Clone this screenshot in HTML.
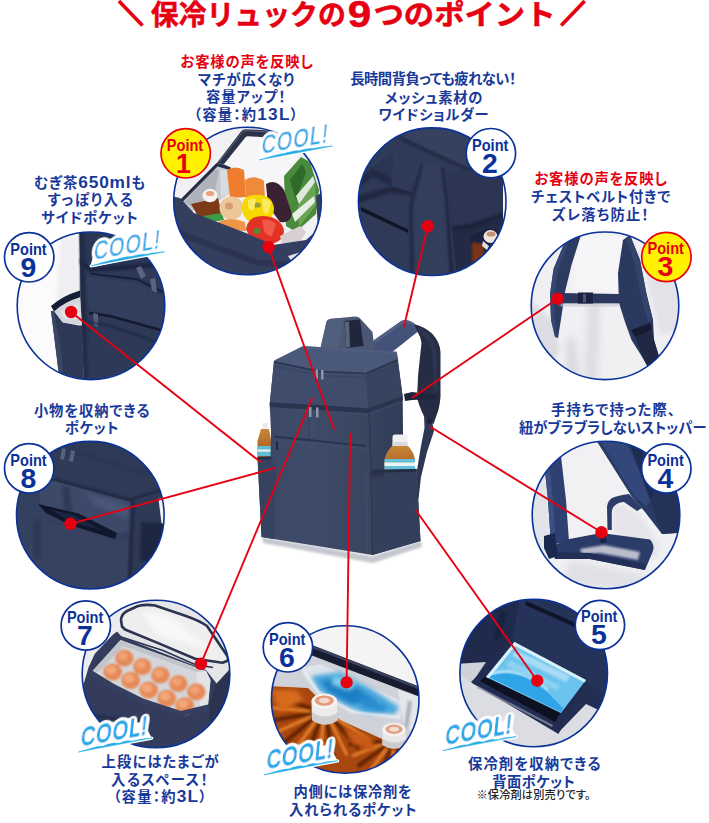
<!DOCTYPE html>
<html lang="ja"><head><meta charset="utf-8"><title>保冷リュックの9つのポイント</title>
<style>
html,body{margin:0;padding:0;background:#fff}
svg{display:block}
text{font-family:"Liberation Sans","Noto Sans CJK JP",sans-serif}
.t{font-weight:700;font-size:14.3px;fill:#19399a;text-anchor:middle;font-feature-settings:"palt"}
.L{font-size:17.3px}
.r{fill:#e60012}
.ttl{font-weight:700;font-size:28.5px;fill:#e60012;text-anchor:middle;stroke:#e60012;stroke-width:0.5px}
.pt{font-weight:700;font-size:16.6px;text-anchor:middle}
.pn{font-weight:700;font-size:26.8px;text-anchor:middle}
.cool{font-size:24px;letter-spacing:1.7px;fill:#1fa9e8;stroke:#1fa9e8;stroke-width:1.3px;stroke-linejoin:round}
</style></head><body>
<svg width="709" height="823" viewBox="0 0 709 823">
<rect width="709" height="823" fill="#fff"/>
<defs>
<clipPath id="cp1"><circle cx="247.5" cy="201.0" r="73.8"/></clipPath>
<clipPath id="cp2"><circle cx="432.2" cy="201.7" r="73.8"/></clipPath>
<clipPath id="cp3"><circle cx="605.0" cy="305.8" r="73.8"/></clipPath>
<clipPath id="cp4"><circle cx="606.0" cy="515.0" r="73.8"/></clipPath>
<clipPath id="cp5"><circle cx="533.7" cy="673.0" r="73.8"/></clipPath>
<clipPath id="cp6"><circle cx="345.2" cy="699.5" r="73.8"/></clipPath>
<clipPath id="cp7"><circle cx="156.0" cy="674.0" r="73.8"/></clipPath>
<clipPath id="cp8"><circle cx="90.3" cy="515.2" r="73.8"/></clipPath>
<clipPath id="cp9"><circle cx="91.0" cy="305.8" r="73.8"/></clipPath>
<linearGradient id="gFront" x1="0" y1="0" x2="1" y2="0"><stop offset="0" stop-color="#3a4865"/><stop offset="0.45" stop-color="#3e4b6a"/><stop offset="1" stop-color="#39455f"/></linearGradient>
<linearGradient id="gSide" x1="0" y1="0" x2="1" y2="0"><stop offset="0" stop-color="#37425f"/><stop offset="1" stop-color="#2f3955"/></linearGradient>
<linearGradient id="gTea" x1="0" y1="0" x2="0" y2="1"><stop offset="0" stop-color="#c8873a"/><stop offset="1" stop-color="#a5561a"/></linearGradient>
<filter id="b1" x="-20%" y="-20%" width="140%" height="140%"><feGaussianBlur stdDeviation="1"/></filter>
<filter id="b2" x="-20%" y="-20%" width="140%" height="140%"><feGaussianBlur stdDeviation="2"/></filter>
<filter id="b3" x="-30%" y="-30%" width="160%" height="160%"><feGaussianBlur stdDeviation="3.5"/></filter>
<clipPath id="cp6b"><path d="M268 686 L308 688 L340 720 L380 738 L424 756 L424 779 L268 779 Z"/></clipPath>
<filter id="halo" x="-15%" y="-40%" width="130%" height="180%"><feGaussianBlur in="SourceAlpha" stdDeviation="3.2 2.7" result="db"/><feComponentTransfer in="db" result="dt"><feFuncA type="linear" slope="20" intercept="-1.1"/></feComponentTransfer><feFlood flood-color="#fff"/><feComposite in2="dt" operator="in" result="w"/><feMerge><feMergeNode in="w"/><feMergeNode in="SourceGraphic"/></feMerge></filter>
<filter id="b0" x="-20%" y="-20%" width="140%" height="140%"><feGaussianBlur stdDeviation="0.6"/></filter>
</defs>
<g id="title">
<text class="ttl" transform="translate(118.8,23.0) scale(0.96,1)" style="font-size:25px;text-anchor:start;stroke-width:2.5px">＼</text>
<text class="ttl" x="248.3" y="25.2" textLength="195" lengthAdjust="spacingAndGlyphs">保冷リュックの</text>
<text class="ttl" x="359.6" y="26.6" style="font-size:36.5px" textLength="23.5" lengthAdjust="spacingAndGlyphs">9</text>
<text class="ttl" x="464.5" y="25.2" textLength="182" lengthAdjust="spacingAndGlyphs">つのポイント</text>
<text class="ttl" transform="translate(560.9,23.0) scale(0.96,1)" style="font-size:25px;text-anchor:start;stroke-width:2.5px">／</text>
</g>
<g id="backpack">
<!-- ground shadow -->
<path d="M262 537 L372 556 L421 541 L422 547 L373 563 L263 543 Z" fill="#c4c7cf" filter="url(#b1)"/>
<!-- strap: light front portion -->
<path d="M366 345.8 L401.5 320.8 Q408 318.3 414.5 323.5 L418 331.5 L391 353 L372 354 Z" fill="#44527a"/>
<path d="M373.5 340.5 L401.5 320.8 Q408 318.3 414.5 323.5 L415.5 326 Q408 321.5 402 324 L375.5 343 Z" fill="#5a6789" opacity="0.8"/>
<!-- strap: dark padded portion -->
<path d="M414 324 Q425 327 432 333.5 Q440 342 440.5 352 L440.5 397 Q439.5 408 437 414 L433.5 424 L427 421.5 Q421 412 417 398 L418.2 374 L421.5 343 Q420.5 336 417 331 Z" fill="#252c44"/>
<path d="M419 327 Q429 332 436 345 L438 390 L434 394 L432 350 Q427 338 419 332 Z" fill="#333b56" opacity="0.6"/>
<!-- chest strap clip -->
<path d="M404 394 L412 392 L437 395 L437 399 L412 400 L405 401 Z" fill="#1d243b"/>
<!-- lower webbing -->
<path d="M424 415 L432 421 L434 431 L427 452 L421 477 L418.5 499 L415 497 L417 470 L421 446 L424.5 428 Z" fill="#2d3754"/>
<circle cx="429.5" cy="421" r="2.6" fill="#1b2238"/>
<!-- handle -->
<path d="M320 350 L326.5 321.5 Q328 318.5 334 318.5 L355 316.5 Q359 316.5 361 319.5 L372.5 332 L374.5 349 L358 353 L335 353 Z" fill="#4b5775"/>
<path d="M326.5 321.5 Q328 318.5 334 318.5 L344 318 L338 350 L320 350 Z" fill="#56627f" opacity="0.7"/>
<path d="M344.5 321 L360 319.5 L363.5 346 L346 348 Z" fill="#20263b"/>
<path d="M345 322 L349 321.7 L350 347 L346 347.5 Z" fill="#59637c"/>
<!-- left bottle -->
<g>
<rect x="262.5" y="423" width="5.5" height="5.5" fill="#ececed"/>
<path d="M261 429 L269 429 L271 440 L271.5 458 L257.5 458 L257.5 441 Z" fill="url(#gTea)"/>
<rect x="257.5" y="446" width="14" height="10" fill="#63bcd6"/>
<rect x="257.5" y="449.5" width="14" height="2.2" fill="#e8eef0"/>
</g>
<!-- main body: side face (right) -->
<path d="M366 372 L396.8 352 L398 360 L402.7 397 L403 433 L406 466 L416.5 469 L420.5 541 L372.5 555 L370 470 Z" fill="url(#gSide)"/>
<!-- main body front face -->
<path d="M274 360.5 L366 372.5 L369 417 L371 470 L372.5 555 L261.5 537 L257.5 457 L270.5 456 L271 432 L269.7 404 Z" fill="url(#gFront)"/>
<!-- lid top -->
<path d="M274 360.6 L303 346 L396.8 351.7 L397.5 359 L366 372.5 L319.7 370.5 Z" fill="#4a5879"/>
<path d="M303 346 L396.8 351.7 L397 354 L303 348.5 Z" fill="#55638380"/>
<!-- lid front band -->
<path d="M274 362 L319.7 371.5 L366 373.5 L397.5 360 L402.5 396 L367 408.5 L318 405 L269.8 402.5 Z" fill="#3f4c6c"/>
<path d="M366 373.5 L397.5 360 L402.5 396 L368 408.5 Z" fill="#38445f"/>
<!-- lid zipper line -->
<path d="M274 362 L319.7 371.5 L366 373.5 L397.5 360" stroke="#2b3550" stroke-width="1.4" fill="none"/>
<path d="M274 366 L319.7 375.5 L366 377.5 L398 364" stroke="#33405c" stroke-width="1" fill="none" opacity="0.8"/>
<!-- seam between compartments -->
<path d="M269.7 402.5 L318 405 L367 408.5 L402.5 396 L403 400 L367.5 413 L318 410 L269.8 407 Z" fill="#2a344f"/>
<path d="M269.9 408 L318 411.5 L367.5 414.5 L403 401.5" stroke="#46547480" stroke-width="1.2" fill="none"/>
<!-- zipper pulls -->
<path d="M315.5 369.5 L318 369.5 L318 379 L315.5 379 Z M321 370 L323.5 370 L323.5 379.5 L321 379.5 Z" fill="#8e95a8"/>
<path d="M309 407 L311.5 407 L311.5 417 L309 417 Z M316 407.5 L318.5 407.5 L318.5 417.5 L316 417.5 Z" fill="#8e95a8"/>
<!-- vertical stripes on front lower (subtle) -->
<path d="M309 417 L309 441 M318 418 L318 442" stroke="#34405c" stroke-width="1" opacity="0.6"/>
<!-- front pocket zipper line -->
<path d="M274 436.5 L318 441 L366 446" stroke="#2a3450" stroke-width="1.8" fill="none"/>
<path d="M274 439.5 L318 444 L366 449" stroke="#46547480" stroke-width="1" fill="none"/>
<path d="M277 441 L277 450" stroke="#1a2138" stroke-width="1.6"/>
<!-- left pocket -->
<path d="M257.5 457 L271 457 L276 470 L274 539 L261.5 537 Z" fill="#36425f"/>
<path d="M257.5 457 L271 457 L271.3 459.5 L257.6 459.5 Z" fill="#262f48"/>
<!-- right bottle -->
<g>
<path d="M392.5 437 Q392.5 434.5 395 434.5 L405 434.5 Q407.5 434.5 407.5 437 L407.5 446 L392.5 446 Z" fill="#f0f0f0"/>
<path d="M392.5 442 L407.5 442 L407.5 446 L392.5 446 Z" fill="#d9dadd"/>
<path d="M392 446 L408 446 Q414 452 415 460 L415 473 L384.5 473 L384.5 460 Q386 452 392 446 Z" fill="url(#gTea)"/>
<path d="M384.5 459 L415 459 L415 471 L384.5 471 Z" fill="#66c0da"/>
<path d="M384.5 462.5 L415 462.5 L415 466 L384.5 466 Z" fill="#eef3f4"/>
</g>
<!-- right pocket -->
<path d="M371 470 L416.5 469 L420.5 541 L372.5 555 Z" fill="#343f5c"/>
<path d="M371 470 L416.5 469 L416.6 471.8 L371 472.8 Z" fill="#232b44"/>
<path d="M384 470 L384 476 L371 477 L371 470 Z" fill="#2a334d" filter="url(#b1)"/>
<!-- vertical corner edge -->
<path d="M369 413 L371 470 L372.5 555" stroke="#2c3651" stroke-width="1.3" fill="none"/>
<path d="M366 472 L367.5 554" stroke="#4a587880" stroke-width="1.5" fill="none" filter="url(#b1)"/>
</g>
<g id="c1">
<g clip-path="url(#cp1)">
<rect x="170" y="124" width="156" height="156" fill="#f1f1f3"/>
<!-- lid interior white/silver -->
<path d="M216 166 L246 131 L270 133 L300 150 L300 190 L230 190 Z" fill="#f6f6f8"/>
<!-- lid dark rim -->
<path d="M216.5 163.5 L241 131.5 Q243 128.8 247 129.2 L268.5 130.5 L268.5 137.5 L248.5 136.2 Q246.5 136 245.3 137.6 L224 164 Z" fill="#2b3349"/>
<path d="M219 162 L242.5 132 Q244 130.5 247 130.7 L268.5 132" stroke="#5d667c" stroke-width="1" fill="none"/>
<!-- silver lining left -->
<path d="M180 203 L214.5 166.5 L227.5 168 L229 194 L218.5 201 L192 211 Z" fill="#c6c9cf"/>
<path d="M184 202 L214 170 L219 170 L214 196 L194 208 Z" fill="#adb2bb" filter="url(#b0)"/>
<path d="M220 170 L227 170 L228 194 L221 198 Z" fill="#d9dbdf" filter="url(#b0)"/>
<!-- bag rim dark line -->
<path d="M216.5 163 L224 164.5 L231 167.5 L230 170 L217.5 166.5 L180 204.5 L178 202 Z" fill="#262e45"/>
<!-- green leafy bag -->
<g filter="url(#b0)">
<path d="M284 176 L301 157 L310 162 L319 190 L316 214 L296 232 L286 226 Z" fill="#4a8a3c"/>
<path d="M290 180 L302 164 L306 172 L296 200 Z" fill="#2f6a2a"/>
<path d="M303 190 L315 180 L316 205 L300 226 L296 215 Z" fill="#6aa556"/>
<path d="M296 196 L313 176 L315 182 L299 204 Z" fill="#dfeadb"/>
<path d="M292 214 L314 196 L315 202 L295 222 Z" fill="#e8efe5"/>
</g>
<!-- eggplant -->
<path d="M266 184 Q276 178 284 190 L292 214 Q290 224 280 222 L268 206 Z" fill="#3b2433" filter="url(#b0)"/>
<!-- carrots -->
<g filter="url(#b0)">
<path d="M227 170 Q235 165 244 170 L246 197 L230 198 Z" fill="#ef7d2d"/>
<path d="M245 180 Q254 174 264 181 L265 199 L246 200 Z" fill="#f08a3a"/>
</g>
<!-- tea bottle -->
<path d="M191 204 L218 198 L222 214 L200 220 Z" fill="#7b3a12" filter="url(#b0)"/>
<ellipse cx="210" cy="195.5" rx="7.6" ry="6.8" fill="#f4f1ee"/>
<ellipse cx="210" cy="193.5" rx="4.2" ry="2.6" fill="#e9a27f"/>
<!-- green bits -->
<path d="M203 216 L222 213 L224 220 L206 223 Z" fill="#3e9a4a" filter="url(#b0)"/>
<!-- onion -->
<ellipse cx="231.5" cy="208" rx="12" ry="11.5" fill="#ecc79a" filter="url(#b0)"/>
<ellipse cx="229" cy="206" rx="4" ry="3.5" fill="#d99c6c" filter="url(#b0)"/>
<!-- orange below onion -->
<path d="M218 222 Q230 216 245 222 L246 231 L222 230 Z" fill="#f0964a" filter="url(#b0)"/>
<!-- yellow pepper -->
<path d="M242 208 Q242 194 256 195 Q272 194 274 208 Q274 222 258 223 Q243 223 242 208 Z" fill="#f6d700" filter="url(#b0)"/>
<ellipse cx="257" cy="205" rx="4" ry="2.6" fill="#9a9a3a" filter="url(#b0)"/>
<path d="M248 200 Q252 197 256 199 L254 210 Q250 211 248 208 Z" fill="#fbe960" filter="url(#b0)"/>
<path d="M262 199 Q268 198 271 203 L268 214 Q264 214 263 210 Z" fill="#fbe960" filter="url(#b0)"/>
<!-- red pepper -->
<path d="M246 229 Q248 216 262 216 Q280 216 284 230 Q284 243 268 244 Q250 242 246 229 Z" fill="#e23222" filter="url(#b0)"/>
<ellipse cx="257" cy="231" rx="3.5" ry="3" fill="#4f8a3a" filter="url(#b0)"/>
<path d="M262 220 Q270 218 276 224 L272 236 Q266 236 264 230 Z" fill="#f0584a" filter="url(#b0)"/>
<!-- pale thing right of red pepper -->
<path d="M280 236 L300 226 L306 232 L300 242 L282 244 Z" fill="#d8cfd0" filter="url(#b0)"/>
<!-- navy bag body -->
<path d="M170 196 L180 198 L194 213 L246 233 L273 245 L306 240 L322 226 L330 226 L330 290 L170 290 Z" fill="#343f5f"/>
<path d="M170 225 L200 238 L260 260 L300 262 L326 250 L326 256 L300 268 L258 266 L198 244 L170 232 Z" fill="#293250" opacity="0.8"/>
<path d="M316 196 L326 190 L326 230 L318 230 Z" fill="#343f5f"/>
<!-- whitish bottom right -->
<path d="M288 256 L326 244 L326 262 L296 268 Z" fill="#dfe0e6" filter="url(#b0)"/>
</g>
<circle cx="247.5" cy="201.0" r="73.8" fill="none" stroke="#0b3299" stroke-width="1.6"/>
</g>
<g id="c2">
<g clip-path="url(#cp2)">
<rect x="355" y="125" width="156" height="156" fill="#2f3a58"/>
<!-- top face lighter -->
<path d="M390 125 L511 125 L511 180 L468 168 L406 139 Z" fill="#36415f"/>
<path d="M396 134 L406 139 L468 168 L505 178 L505 181 L467 171 L404 142 Z" fill="#222a44" filter="url(#b1)"/>
<!-- right side face darker -->
<path d="M447 172 L468 170 L505 180 L505 215 L470 226 L452 228 Z" fill="#2c3654"/>
<path d="M452 228 L470 226 L505 214 L507 290 L458 290 Z" fill="#222a45"/>
<path d="M452 226 L470 224 L505 212 L505 216 L470 229 L452 231 Z" fill="#1b2239" filter="url(#b1)"/>
<!-- left panels -->
<path d="M357 180 L372 168 L392 178 L392 186 L372 177 L357 190 Z" fill="#222a44" filter="url(#b1)"/>
<path d="M372 168 L395 150 L400 152 L393 178 Z" fill="#26315380"/>
<path d="M357 196 L392 186 L412 190 L412 196 L390 193 L357 204 Z" fill="#20283f" filter="url(#b1)"/>
<!-- black slot -->
<path d="M361 207 L408 229.5 L408 233 L361 211 Z" fill="#0f1428"/>
<!-- strap band -->
<path d="M420 164 Q430 160 442 167 L446 200 L451 280 L412 280 L411 205 Z" fill="#333e5d"/>
<path d="M409 204 L420 164 L423 165 L413 206 L414 280 L410 280 Z" fill="#222a44" filter="url(#b1)"/>
<path d="M441 167 L444 167 L448 200 L454 280 L450 280 L445 200 Z" fill="#20283f" filter="url(#b1)"/>
<path d="M393 150 L420 164 L411 192 L392 186 Z" fill="#303a59"/>
<!-- white bg far right + bottle -->
<path d="M503 178 L511 178 L511 225 L503 222 Z" fill="#f3f3f5"/>
<path d="M470 236 L490 228 L505 236 L505 268 L475 268 Z" fill="#1a2240"/>
<path d="M472 242 L484 244 L484 262 L472 262 Z" fill="#7a3614" filter="url(#b1)"/>
<ellipse cx="490.5" cy="236.5" rx="7" ry="6.5" fill="#f1e7e0"/>
<ellipse cx="491" cy="234" rx="4.5" ry="2.6" fill="#c98f77"/>
<path d="M483 241 L489 246 L487 250 L482 246 Z" fill="#e6dedb"/>
</g>
<circle cx="432.2" cy="201.7" r="73.8" fill="none" stroke="#0b3299" stroke-width="1.6"/>
</g>
<g id="c3">
<g clip-path="url(#cp3)">
<rect x="528" y="229" width="156" height="156" fill="#f0f0f3"/>
<!-- shirt shading -->
<path d="M575 236 L626 236 L620 262 L618 292 L572 290 L574 262 Z" fill="#f6f6f8" filter="url(#b2)"/>
<path d="M530 300 L552 320 L560 350 L548 370 L530 360 Z" fill="#dcdce3" filter="url(#b2)"/>
<path d="M588 300 L600 300 L598 380 L584 380 Z" fill="#dddde4" filter="url(#b3)"/>
<path d="M640 250 L680 260 L680 330 L660 335 Z" fill="#e2e2e8" filter="url(#b2)"/>
<path d="M566 340 L575 336 L580 380 L566 380 Z" fill="#d9d9e0" filter="url(#b3)"/>
<!-- left strap -->
<path d="M566 239 L581 235 L571.5 265 L565 292 L561.5 316 L558 338 L555 337 L551 320 L550 294 L553.5 269 Z" fill="#2d3b63"/>
<path d="M566 239 L570 238 L558 270 L554 296 L555 322 L557 337 L555 337 L551 320 L550 294 L553.5 269 Z" fill="#3a4a73" opacity="0.8"/>
<!-- right strap -->
<path d="M623 240 L630 235 L640 260 L646.5 294 L653 320 L654 340 L660 360 L668 372 L652 376 L644 360 L631.5 340 L625 322 L619 303 L618 273 Z" fill="#2b3960"/>
<path d="M630 235 L640 260 L646.5 294 L653 320 L648 322 L641 296 L634 262 L626 238 Z" fill="#34436b"/>
<!-- lower dark webbing -->
<path d="M634 333 L651 326 L654 340 L660 360 L666 371 L654 376 L644 360 Z" fill="#1f2743"/>
<path d="M631 330 L650 323 L652 329 L635 337 Z" fill="#151b30"/>
<!-- chest belt -->
<path d="M560 293 L619 294 L619 303.5 L560 303.5 Z" fill="#2a3860"/>
<path d="M578 292.5 L593 292.5 L593 304 L578 304 Z" fill="#1a2340"/>
<path d="M583 294 L586 294 L586 302.5 L583 302.5 Z" fill="#4a5678"/>
<path d="M560 304 L619 304 L619 306 L560 306 Z" fill="#c6c6d0" filter="url(#b1)"/>
</g>
<circle cx="605.0" cy="305.8" r="73.8" fill="none" stroke="#0b3299" stroke-width="1.6"/>
</g>
<g id="c4">
<g clip-path="url(#cp4)">
<rect x="529" y="438" width="156" height="156" fill="#f1f1f4"/>
<path d="M531 470 L548 465 L552 540 L531 560 Z" fill="#e3e3ea" filter="url(#b2)"/>
<path d="M570 560 L650 575 L640 592 L560 585 Z" fill="#e0e0e7" filter="url(#b3)"/>
<path d="M612 500 L640 515 L660 545 L655 560 L615 535 Z" fill="#e4e4ea" filter="url(#b2)"/>
<!-- bag body upper right -->
<path d="M596 440 L690 440 L690 532 L662 534 L645 512 L632 497 Z" fill="#2a3a66"/>
<path d="M600 440 L625 440 L652 498 L646 506 L634 496 Z" fill="#34477a"/>
<path d="M630 444 L640 444 L656 494 L650 500 Z" fill="#1f2c52"/>
<path d="M650 500 L660 478 L690 480 L690 532 L662 534 Z" fill="#243259"/>
<!-- connecting strap from bag to loop -->
<path d="M629 494 Q618 495.5 612 498 Q607.5 501 607 507 L607.5 530 L611.8 530 L611.8 512 Q612 507 616 504.5 Q620 501.5 624 502 L637 511 L642 508 Z" fill="#2c3d6c"/>
<!-- vertical strap left -->
<path d="M544 461 L561 456 L566 500 L569 541 L551 545 L548 500 Z" fill="#2e4070"/>
<path d="M544 461 L549 459.5 L553 500 L556 544 L551 545 L548 500 Z" fill="#3b4f82"/>
<!-- loop -->
<path d="M553 546 L567 539.5 L601 533 L650 539.5 Q655 545 653 551 L645 570 L590 559 L555 559 Z" fill="#2b3c69"/>
<path d="M580 549 L604 545 L640 552 L638 560 L600 553 L582 554 Z" fill="#b9bdcc" filter="url(#b1)"/>
<path d="M553 552 L590 553 L645 564 L645 570 L590 559 L555 559 Z" fill="#223058"/>
<!-- buckle -->
<path d="M544 536 L555 533 L558 556 L549 559 L544 548 Z" fill="#1b2850"/>
<path d="M599 535 L605 533 L607 542 L601 543 Z" fill="#1a2340"/>
</g>
<circle cx="606.0" cy="515.0" r="73.8" fill="none" stroke="#0b3299" stroke-width="1.6"/>
</g>
<g id="c5">
<g clip-path="url(#cp5)">
<rect x="457" y="596" width="156" height="156" fill="#222e52"/>
<!-- upper shapes -->
<path d="M457 596 L525 596 L513 640 L488 662 L457 668 Z" fill="#1f2a4c"/>
<path d="M520 596 L613 596 L613 700 L586 682 L512 642 Z" fill="#25325a"/>
<path d="M526 601 L578 624 L577 628 L525 605 Z" fill="#10152a"/>
<path d="M500 612 L506 612 L500 640 L494 640 Z" fill="#17203d" filter="url(#b1)"/>
<!-- light gray floor -->
<path d="M457 667 L472 683 L558 733 L586 704 L613 717 L613 752 L457 752 Z" fill="#dcdde2"/>
<path d="M457 664 L486 662 L472 683 L457 672 Z" fill="#d0d2d9"/>
<!-- flap navy -->
<path d="M471 682 L512 642 L586 680 L558.5 734 Z" fill="#212c50"/>
<!-- velcro -->
<path d="M480 681 L486 676 L560 713 L555 722 Z" fill="#0d1122"/>
<path d="M478 686 L553 725 L552 727 L477 688 Z" fill="#8f96ad" opacity="0.7"/>
<!-- ice pack -->
<path d="M514.5 642 L586 680 L561 713 L486 677 Z" fill="#6cc4ee"/>
<path d="M492 675 Q520 668 545 690 L563 708 L561 712 L487 676 Z" fill="#2fa4e6"/>
<path d="M490 674 Q520 664 548 690" stroke="#e9f6fc" stroke-width="1.6" fill="none" filter="url(#b1)"/>
<path d="M514.5 642 L586 680 L584.5 682.5 L513 645 Z" fill="#e6f5fc" opacity="0.9"/>
<path d="M514.5 642 L486 677 L489 678.3 L516.5 644.5 Z" fill="#e6f5fc" opacity="0.9"/>
<path d="M516 650 L570 676 L566 682 L512 656 Z" fill="#a9dcf5" filter="url(#b1)"/>
<path d="M510 660 L560 686 L556 690 L506 666 Z" fill="#8fd2f2" filter="url(#b1)"/>
</g>
<circle cx="533.7" cy="673.0" r="73.8" fill="none" stroke="#0b3299" stroke-width="1.6"/>
</g>
<g id="c6">
<g clip-path="url(#cp6)">
<rect x="268" y="623" width="156" height="156" fill="#f4f4f5"/>
<!-- silver interior -->
<path d="M268 660 L312 652 L424 696 L424 779 L268 779 Z" fill="#cfd2d8"/>
<path d="M300 668 L320 664 L404 702 L400 718 L352 712 L318 694 Z" fill="#dfe3ea"/>
<!-- blue ice pack -->
<g filter="url(#b2)">
<path d="M311 676 L340 672 L370 688 L399 707 L395 714 L365 714 L340 703 L319 691 Z" fill="#4aa8dc"/>
<path d="M320 680 L345 679 L378 702 L350 704 L328 692 Z" fill="#1f7fc6"/>
<path d="M334 676 L356 683 L350 690 L332 684 Z" fill="#7fd0ee"/>
<path d="M360 696 L388 706 L384 712 L362 708 Z" fill="#2a8ed0"/>
</g>
<!-- mesh pocket edge -->
<path d="M304 672 L318 692 L352 712 L400 718" stroke="#eef0f4" stroke-width="2" fill="none" filter="url(#b1)"/>
<!-- right silver -->
<path d="M398 690 L424 698 L424 740 L404 726 Z" fill="#e4e6ea"/>
<path d="M408 700 L412 702 L408 730 L404 726 Z" fill="#aeb3bd" filter="url(#b1)"/>
<!-- dark band -->
<path d="M312 645 L424 688.5 L424 698.5 L312 655.5 Z" fill="#171c30"/>
<path d="M312 645.5 L424 689 L424 691.5 L312 648 Z" fill="#3a4360"/>
<!-- brown bottles -->
<g>
<path d="M268 686 L308 688 L340 720 L380 738 L424 756 L424 779 L268 779 Z" fill="#a8470f"/>
<g clip-path="url(#cp6b)"><g filter="url(#b1)" opacity="0.9">
<path d="M339.5 716.1 L373.4 728.0" stroke="#5e2006" stroke-width="4.2" stroke-linecap="round"/>
<path d="M337.6 718.9 L367.1 738.8" stroke="#e8842c" stroke-width="3.2" stroke-linecap="round"/>
<path d="M334.8 721.2 L357.9 747.9" stroke="#5e2006" stroke-width="4.2" stroke-linecap="round"/>
<path d="M331.3 722.9 L346.5 754.4" stroke="#e8842c" stroke-width="3.2" stroke-linecap="round"/>
<path d="M327.3 723.8 L333.5 758.1" stroke="#5e2006" stroke-width="4.2" stroke-linecap="round"/>
<path d="M323.1 724.0 L320.0 758.6" stroke="#e8842c" stroke-width="3.2" stroke-linecap="round"/>
<path d="M319.0 723.3 L306.7 756.0" stroke="#5e2006" stroke-width="4.2" stroke-linecap="round"/>
<path d="M315.3 721.8 L294.7 750.3" stroke="#e8842c" stroke-width="3.2" stroke-linecap="round"/>
<path d="M312.2 719.7 L284.7 742.1" stroke="#5e2006" stroke-width="4.2" stroke-linecap="round"/>
<path d="M310.0 717.1 L277.4 731.8" stroke="#e8842c" stroke-width="3.2" stroke-linecap="round"/>
<path d="M308.7 714.1 L273.3 720.1" stroke="#5e2006" stroke-width="4.2" stroke-linecap="round"/>
<path d="M308.6 711.0 L272.7 707.9" stroke="#e8842c" stroke-width="3.2" stroke-linecap="round"/>
<path d="M309.5 707.9 L275.6 696.0" stroke="#5e2006" stroke-width="4.2" stroke-linecap="round"/>
<path d="M407.8 742.8 L437.3 747.9" stroke="#5e2006" stroke-width="4.2" stroke-linecap="round"/>
<path d="M406.5 745.7 L433.4 758.7" stroke="#e8842c" stroke-width="3.2" stroke-linecap="round"/>
<path d="M404.2 748.2 L426.2 768.0" stroke="#5e2006" stroke-width="4.2" stroke-linecap="round"/>
<path d="M401.1 750.0 L416.3 775.1" stroke="#e8842c" stroke-width="3.2" stroke-linecap="round"/>
<path d="M397.4 751.2 L404.6 779.4" stroke="#5e2006" stroke-width="4.2" stroke-linecap="round"/>
<path d="M393.4 751.5 L392.1 780.6" stroke="#e8842c" stroke-width="3.2" stroke-linecap="round"/>
<path d="M389.4 750.9 L379.7 778.4" stroke="#5e2006" stroke-width="4.2" stroke-linecap="round"/>
<path d="M385.9 749.5 L368.4 773.2" stroke="#e8842c" stroke-width="3.2" stroke-linecap="round"/>
<path d="M383.0 747.5 L359.3 765.4" stroke="#5e2006" stroke-width="4.2" stroke-linecap="round"/>
<path d="M381.0 744.8 L353.1 755.5" stroke="#e8842c" stroke-width="3.2" stroke-linecap="round"/>
<path d="M380.1 741.9 L350.2 744.5" stroke="#5e2006" stroke-width="4.2" stroke-linecap="round"/>
</g></g>
<g filter="url(#b2)">
<path d="M270 690 L296 690 L304 700 L280 712 Z" fill="#d86a1c"/>
<path d="M344 728 L372 738 L376 752 L352 744 Z" fill="#c95c14"/>
</g>
</g>
<!-- cap1 -->
<path d="M311.5 701 L337 701 L338 720 Q325 729 312 720 Z" fill="#eceaea"/>
<path d="M312 712 Q325 721 338 712 L338 720 Q325 729 312 720 Z" fill="#cfcdd2"/>
<ellipse cx="324.3" cy="701" rx="12.8" ry="7.4" fill="#f6f3f1"/>
<ellipse cx="324.3" cy="700.6" rx="9.6" ry="5.2" fill="#e39a78"/>
<ellipse cx="324.3" cy="700.6" rx="5.5" ry="2.8" fill="#f3d9cb"/>
<!-- cap2 -->
<path d="M382.5 730 L405.5 730 L406 745 Q394 752 382.5 745 Z" fill="#e9e7e8"/>
<path d="M382.5 739 Q394 746 406 739 L406 745 Q394 752 382.5 745 Z" fill="#cdcbd1"/>
<ellipse cx="394" cy="729.5" rx="11.6" ry="6.8" fill="#f5f2f0"/>
<ellipse cx="394" cy="729.2" rx="8.6" ry="4.7" fill="#e1a184"/>
<ellipse cx="394" cy="729.2" rx="4.8" ry="2.4" fill="#f3dccf"/>
<!-- bottom navy sliver -->
<path d="M315 771 L360 779 L315 779 Z" fill="#1d2848"/>
</g>
<circle cx="345.2" cy="699.5" r="73.8" fill="none" stroke="#0b3299" stroke-width="1.6"/>
</g>
<g id="c7">
<g clip-path="url(#cp7)">
<rect x="79" y="597" width="156" height="156" fill="#e6e6e8"/>
<path d="M79 597 L150 597 L120 630 L100 650 L79 690 Z" fill="#ececee"/>
<!-- lid -->
<path d="M122 626.5 L121 620 Q121.5 614 127 611 L138 606 Q146 604 155 605.5 L186 616 Q200 621 207 626 L226 654 Q229.5 659 227 661 L222.5 662.8 L195 658.8 L157 642.6 L125 629.5 Z" fill="#eeeeef" stroke="#2c3450" stroke-width="2.6" stroke-linejoin="round"/>
<path d="M140 612 L170 616 L212 650 L160 636 Z" fill="#f8f8f9" filter="url(#b2)"/>
<!-- back wall silver between lid and rim -->
<path d="M114 634 L124 631 L157 645 L195 661 L222 665 L212 668 L206 671 L122 638 Z" fill="#e2e3e7"/>
<path d="M113.5 634.5 L163 650.5 L195 664.5 L213 667.5" stroke="#2c3450" stroke-width="1.6" fill="none"/>
<!-- bag body -->
<path d="M117 631.5 L122 637 L206 670 L217 684 L231 668 L240 668 L240 760 L79 760 L79 700 L88.5 667.5 L94.7 654 L111.5 636 Z" fill="#333c5c"/>
<path d="M79 712 L110 716 L150 722 L150 726 L110 720 L79 716 Z" fill="#262e49" filter="url(#b1)"/>
<path d="M216 684 L231 668 L236 668 L236 760 L212 760 L209 706 Z" fill="#2a3350"/>
<!-- interior silver -->
<path d="M120.5 640 L206 671 L210.5 680 L208 705 L181 711.5 L143 699 L114 684.5 L92.5 671 Z" fill="#d4d6db"/>
<path d="M120.5 640 L206 671 L208 676 L123 646 L99 672 L92.5 671 Z" fill="#c1c4cb"/>
<path d="M196 672 L206 671 L210.5 680 L208 705 L200 707 Z" fill="#e3e4e8"/>
<g filter="url(#b1)">
<ellipse cx="124.4" cy="658.2" rx="9.2" ry="8.4" fill="#e58a58"/><ellipse cx="122.9" cy="656.2" rx="5" ry="4" fill="#f0a274"/>
<ellipse cx="142.3" cy="666.7" rx="9.2" ry="8.4" fill="#e58a58"/><ellipse cx="140.8" cy="664.7" rx="5" ry="4" fill="#f0a274"/>
<ellipse cx="160.3" cy="675.2" rx="9.2" ry="8.4" fill="#e58a58"/><ellipse cx="158.8" cy="673.2" rx="5" ry="4" fill="#f0a274"/>
<ellipse cx="178.3" cy="683.6" rx="9.2" ry="8.4" fill="#e58a58"/><ellipse cx="176.8" cy="681.6" rx="5" ry="4" fill="#f0a274"/>
<ellipse cx="196.3" cy="692" rx="9.2" ry="8.4" fill="#e58a58"/><ellipse cx="194.8" cy="690" rx="5" ry="4" fill="#f0a274"/>
<ellipse cx="112.7" cy="672" rx="9.4" ry="8.6" fill="#e68b58"/><ellipse cx="111.2" cy="670" rx="5.2" ry="4.2" fill="#f2a77a"/>
<ellipse cx="130.7" cy="680.4" rx="9.4" ry="8.6" fill="#e68b58"/><ellipse cx="129.2" cy="678.4" rx="5.2" ry="4.2" fill="#f2a77a"/>
<ellipse cx="148.7" cy="690" rx="9.4" ry="8.6" fill="#e68b58"/><ellipse cx="147.2" cy="688" rx="5.2" ry="4.2" fill="#f2a77a"/>
<ellipse cx="166.7" cy="698.4" rx="9.4" ry="8.6" fill="#e68b58"/><ellipse cx="165.2" cy="696.4" rx="5.2" ry="4.2" fill="#f2a77a"/>
<ellipse cx="184.7" cy="705.8" rx="9.4" ry="8.6" fill="#e68b58"/><ellipse cx="183.2" cy="703.8" rx="5.2" ry="4.2" fill="#f2a77a"/>
</g>
<!-- front rim of bag over eggs -->
<path d="M92 670.5 L114 684 L143 698.5 L181 711 L208 704.5 L209 709 L181 716 L142 703 L112 688.5 L90 675 Z" fill="#363f5f"/>
</g>
<circle cx="156.0" cy="674.0" r="73.8" fill="none" stroke="#0b3299" stroke-width="1.6"/>
</g>
<g id="c8">
<g clip-path="url(#cp8)">
<rect x="13" y="438" width="156" height="156" fill="#344060"/>
<!-- upper compartment -->
<path d="M50 438 L169 438 L169 488 L150 494 L130 498 L54 477 Z" fill="#2f3a57"/>
<path d="M60 446 L80 450 L140 470 L160 470 L160 474 L140 474 L78 454 L58 450 Z" fill="#25325580" filter="url(#b1)"/>
<!-- zipper pulls top-left -->
<path d="M62 448 L66 449 L64 460 L60 459 Z M71 450 L75 451 L73 462 L69 461 Z" fill="#55617f"/>
<!-- seam -->
<path d="M52 477 L130 498 L162 489 L162 493 L130 502 L52 481 Z" fill="#232b44" filter="url(#b1)"/>
<!-- flap area shiny -->
<path d="M40 484 L54 481 L130 502 L131 530 L117 533 L78 514 L40 505 Z" fill="#3c4969"/>
<path d="M62 486 L70 488 L72 512 L64 510 Z" fill="#2f3a58" filter="url(#b1)"/>
<path d="M84 492 L128 506 L128 518 L96 506 Z" fill="#4a5779" filter="url(#b2)"/>
<!-- pocket opening dark -->
<path d="M38 504 L78.5 513.5 L117 533 L115 539 L70 525 L46 513 Z" fill="#10172c"/>
<path d="M50 509 L76 516 L104 531 L70 522 Z" fill="#1b2440"/>
<!-- right side face -->
<path d="M133 500 L163 491 L169 491 L169 594 L129 594 Z" fill="#2e3955"/>
<path d="M131 501 L135 500 L131 594 L127 594 Z" fill="#222a42" filter="url(#b1)"/>
<path d="M141 522 L161.5 523 L170 527 L170 566 L140 560 Z" fill="#1f2740" filter="url(#b1)"/>
<path d="M158.5 499 L170 494 L170 526 L161.5 523 Z" fill="#f2f2f5"/>
<!-- lower front lighter -->
<path d="M30 520 L70 527 L115 541 L128 541 L127 594 L30 594 Z" fill="#36425f"/>
<path d="M34 520 L40 521 L40 560 L34 556 Z" fill="#2c3652" filter="url(#b2)"/>
</g>
<circle cx="90.3" cy="515.2" r="73.8" fill="none" stroke="#0b3299" stroke-width="1.6"/>
</g>
<g id="c9">
<g clip-path="url(#cp9)">
<rect x="14" y="229" width="156" height="156" fill="#fbfbfc"/>
<path d="M60 240 L78 236 L80 300 L56 305 Z" fill="#efeff2" filter="url(#b2)"/>
<!-- main body -->
<path d="M79.5 229 L170 229 L170 385 L84 385 L80.5 300 Z" fill="#2d3957"/>
<!-- top lid part -->
<path d="M79.5 229 L170 229 L170 262 L140 264 L86 268 L80 262 Z" fill="#26335680"/>
<path d="M80 258 L90 268 L140 264 L170 262 L170 266 L140 268.5 L90 272 L80 264 Z" fill="#1b2442" filter="url(#b1)"/>
<!-- upper zipper -->
<path d="M90 273.5 L138 279.5 L168 295" stroke="#18203a" stroke-width="2" fill="none"/>
<path d="M136 268 L141 266 L146 276 L141 279 Z" fill="#59637e"/>
<path d="M150 279 L155 278 L157 292 L152 292 Z" fill="#59637e"/>
<!-- panel between zippers lighter -->
<path d="M86 276 L138 283 L168 299 L168 330 L92 311 L86 300 Z" fill="#323e5d"/>
<!-- lower zipper -->
<path d="M89 313 L110 316 L168 332" stroke="#131a30" stroke-width="2.4" fill="none"/>
<path d="M93 313 L98 314 L98 327 L94 326 Z" fill="#56607a"/>
<path d="M88 322 L110 326 L168 346" stroke="#1d2745" stroke-width="1.6" fill="none" filter="url(#b1)"/>
<!-- body left edge shading -->
<path d="M79.5 229 L84 229 L86 300 L88 385 L84 385 L80.5 300 Z" fill="#222b45" filter="url(#b1)"/>
<!-- side pocket interior -->
<path d="M53 308 L80 296 L82 325 L62 323 Z" fill="#d3d7dc"/>
<path d="M60 312 L78 304 L80 318 L66 319 Z" fill="#e6e9ec" filter="url(#b1)"/>
<!-- pocket rim dark -->
<path d="M51 306 Q62 296 80 290.5 L80.5 297 Q64 302 54 311.5 Z" fill="#161d36"/>
<!-- pocket body -->
<path d="M51 311 L54 311 L62.5 322.5 L82 326 L84 385 L62 385 L58 366 Z" fill="#2d3957"/>
<path d="M51 311 L54 311 L61 350 L64 385 L60 385 L57 360 Z" fill="#3a4664"/>
</g>
<circle cx="91.0" cy="305.8" r="73.8" fill="none" stroke="#0b3299" stroke-width="1.6"/>
</g>
<g id="lines" stroke="#e60012" stroke-width="1.9" fill="#e60012">
<line x1="268.5" y1="247.0" x2="334.3" y2="429.7"/><circle cx="268.5" cy="247.0" r="6.2" stroke="none"/>
<line x1="427.9" y1="226.2" x2="403.9" y2="327.0"/><circle cx="427.9" cy="226.2" r="6.2" stroke="none"/>
<line x1="557.5" y1="298.7" x2="412.2" y2="397.8"/><circle cx="557.5" cy="298.7" r="6.2" stroke="none"/>
<line x1="601.5" y1="532.3" x2="430.3" y2="426.8"/><circle cx="601.5" cy="532.3" r="6.2" stroke="none"/>
<line x1="537.2" y1="680.7" x2="415.5" y2="509.7"/><circle cx="537.2" cy="680.7" r="6.2" stroke="none"/>
<line x1="346.6" y1="682.4" x2="350.2" y2="433.0"/><circle cx="346.6" cy="682.4" r="6.2" stroke="none"/>
<line x1="200.9" y1="663.8" x2="312.6" y2="397.3"/><circle cx="200.9" cy="663.8" r="6.2" stroke="none"/>
<line x1="70.5" y1="523.8" x2="276.0" y2="467.7"/><circle cx="70.5" cy="523.8" r="6.2" stroke="none"/>
<line x1="71.1" y1="312.0" x2="260.7" y2="462.2"/><circle cx="71.1" cy="312.0" r="6.2" stroke="none"/>
</g>
<g id="badges">
<circle cx="185.7" cy="153.3" r="24.7" fill="#fff100" stroke="#e60012" stroke-width="1.7"/><text class="pt" x="185.0" y="150.6" fill="#e60012" textLength="36.4" lengthAdjust="spacingAndGlyphs">Point</text><text class="pn" x="183.5" y="172.6" fill="#e60012">1</text>
<circle cx="490.9" cy="153.2" r="24.7" fill="#fff" stroke="#0b3299" stroke-width="1.7"/><text class="pt" x="490.2" y="150.5" fill="#0b3299" textLength="36.4" lengthAdjust="spacingAndGlyphs">Point</text><text class="pn" x="490.0" y="172.5" fill="#0b3299" textLength="15.8" lengthAdjust="spacingAndGlyphs">2</text>
<circle cx="666.4" cy="257.0" r="24.7" fill="#fff100" stroke="#e60012" stroke-width="1.7"/><text class="pt" x="665.7" y="254.3" fill="#e60012" textLength="36.4" lengthAdjust="spacingAndGlyphs">Point</text><text class="pn" x="665.5" y="276.3" fill="#e60012" textLength="15.8" lengthAdjust="spacingAndGlyphs">3</text>
<circle cx="666.3" cy="468.5" r="24.7" fill="#fff" stroke="#0b3299" stroke-width="1.7"/><text class="pt" x="665.6" y="465.8" fill="#0b3299" textLength="36.4" lengthAdjust="spacingAndGlyphs">Point</text><text class="pn" x="665.4" y="487.8" fill="#0b3299" textLength="15.8" lengthAdjust="spacingAndGlyphs">4</text>
<circle cx="599.9" cy="625.0" r="24.7" fill="#fff" stroke="#0b3299" stroke-width="1.7"/><text class="pt" x="599.2" y="622.3" fill="#0b3299" textLength="36.4" lengthAdjust="spacingAndGlyphs">Point</text><text class="pn" x="599.0" y="644.3" fill="#0b3299" textLength="15.8" lengthAdjust="spacingAndGlyphs">5</text>
<circle cx="287.9" cy="647.3" r="24.7" fill="#fff" stroke="#0b3299" stroke-width="1.7"/><text class="pt" x="287.2" y="644.6" fill="#0b3299" textLength="36.4" lengthAdjust="spacingAndGlyphs">Point</text><text class="pn" x="287.0" y="666.6" fill="#0b3299" textLength="15.8" lengthAdjust="spacingAndGlyphs">6</text>
<circle cx="85.8" cy="625.5" r="24.7" fill="#fff" stroke="#0b3299" stroke-width="1.7"/><text class="pt" x="85.1" y="622.8" fill="#0b3299" textLength="36.4" lengthAdjust="spacingAndGlyphs">Point</text><text class="pn" x="84.9" y="644.8" fill="#0b3299" textLength="15.8" lengthAdjust="spacingAndGlyphs">7</text>
<circle cx="29.2" cy="468.4" r="24.7" fill="#fff" stroke="#0b3299" stroke-width="1.7"/><text class="pt" x="28.5" y="465.7" fill="#0b3299" textLength="36.4" lengthAdjust="spacingAndGlyphs">Point</text><text class="pn" x="28.3" y="487.7" fill="#0b3299" textLength="15.8" lengthAdjust="spacingAndGlyphs">8</text>
<circle cx="29.2" cy="257.3" r="24.7" fill="#fff" stroke="#0b3299" stroke-width="1.7"/><text class="pt" x="28.5" y="254.6" fill="#0b3299" textLength="36.4" lengthAdjust="spacingAndGlyphs">Point</text><text class="pn" x="28.3" y="276.6" fill="#0b3299" textLength="15.8" lengthAdjust="spacingAndGlyphs">9</text>
</g>
<g id="cool">
<g transform="translate(258.9,160.0) rotate(-10.2)">
<path d="M0 0 Q37 -3.2 75 -0.6 Q37 -0.4 0 0 Z" fill="#fff" stroke="#fff" stroke-width="3" stroke-linejoin="round"/>
<path d="M1 0 L8 -15 L68 -17 L73 -2 Z" fill="#fff" stroke="#fff" stroke-width="3" stroke-linejoin="round"/>
<path d="M0 0 Q37 -4.8 75 -0.8 Q37 -0.4 0 0 Z" fill="#22ade8" stroke="#22ade8" stroke-width="0.5"/>
<text class="cool" x="0" y="0" transform="translate(3.2,-5.6) skewX(-16) scale(0.82,1)" filter="url(#halo)" style="stroke-width:0.5px">COOL!</text>
</g>
<g transform="translate(91.1,265.9) rotate(-10.2)">
<path d="M0 0 Q37 -3.2 75 -0.6 Q37 -0.4 0 0 Z" fill="#fff" stroke="#fff" stroke-width="3" stroke-linejoin="round"/>
<path d="M1 0 L8 -15 L68 -17 L73 -2 Z" fill="#fff" stroke="#fff" stroke-width="3" stroke-linejoin="round"/>
<path d="M0 0 Q37 -4.8 75 -0.8 Q37 -0.4 0 0 Z" fill="#22ade8" stroke="#22ade8" stroke-width="0.5"/>
<text class="cool" x="0" y="0" transform="translate(3.2,-5.6) skewX(-16) scale(0.82,1)" filter="url(#halo)" style="stroke-width:0.5px">COOL!</text>
</g>
<g transform="translate(442.7,750.7) rotate(-10.2)">
<path d="M0 0 Q37 -3.2 75 -0.6 Q37 -0.4 0 0 Z" fill="#fff" stroke="#fff" stroke-width="3" stroke-linejoin="round"/>
<path d="M1 0 L8 -15 L68 -17 L73 -2 Z" fill="#fff" stroke="#fff" stroke-width="3" stroke-linejoin="round"/>
<path d="M0 0 Q37 -4.8 75 -0.8 Q37 -0.4 0 0 Z" fill="#22ade8" stroke="#22ade8" stroke-width="0.5"/>
<text class="cool" x="0" y="0" transform="translate(3.2,-5.6) skewX(-16) scale(0.82,1)" filter="url(#halo)">COOL!</text>
</g>
<g transform="translate(264.0,774.9) rotate(-10.2)">
<path d="M0 0 Q37 -3.2 75 -0.6 Q37 -0.4 0 0 Z" fill="#fff" stroke="#fff" stroke-width="3" stroke-linejoin="round"/>
<path d="M1 0 L8 -15 L68 -17 L73 -2 Z" fill="#fff" stroke="#fff" stroke-width="3" stroke-linejoin="round"/>
<path d="M0 0 Q37 -4.8 75 -0.8 Q37 -0.4 0 0 Z" fill="#22ade8" stroke="#22ade8" stroke-width="0.5"/>
<text class="cool" x="0" y="0" transform="translate(3.2,-5.6) skewX(-16) scale(0.82,1)" filter="url(#halo)">COOL!</text>
</g>
<g transform="translate(78.2,752.1) rotate(-10.2)">
<path d="M0 0 Q37 -3.2 75 -0.6 Q37 -0.4 0 0 Z" fill="#fff" stroke="#fff" stroke-width="3" stroke-linejoin="round"/>
<path d="M1 0 L8 -15 L68 -17 L73 -2 Z" fill="#fff" stroke="#fff" stroke-width="3" stroke-linejoin="round"/>
<path d="M0 0 Q37 -4.8 75 -0.8 Q37 -0.4 0 0 Z" fill="#22ade8" stroke="#22ade8" stroke-width="0.5"/>
<text class="cool" x="0" y="0" transform="translate(3.2,-5.6) skewX(-16) scale(0.82,1)" filter="url(#halo)">COOL!</text>
</g>
</g>
<g id="texts">
<text class="t r" x="246.7" y="66.6" textLength="132.5">お客様の声を反映し</text>
<text class="t" x="246.2" y="84.8" textLength="96.4">マチが広くなり</text>
<text class="t" x="245.7" y="102.3" textLength="79.5">容量アップ！</text>
<text class="t" x="245.9" y="119.9" textLength="104">（容量：約<tspan class="L">13L</tspan>）</text>

<text class="t" x="433.2" y="83.9" textLength="165.9">長時間背負っても疲れない！</text>
<text class="t" x="433.6" y="102.5" textLength="97.3">メッシュ素材の</text>
<text class="t" x="433.5" y="120.3" textLength="110">ワイドショルダー</text>

<text class="t r" x="600.7" y="184.3" textLength="132.6">お客様の声を反映し</text>
<text class="t" x="600.7" y="202.3" textLength="139.4">チェストベルト付きで</text>
<text class="t" x="600.2" y="220.3" textLength="96.7">ズレ落ち防止！</text>

<text class="t" x="613" y="414.9" textLength="124">手持ちで持った際、</text>
<text class="t" x="612.7" y="433.1" textLength="187.6">紐がブラブラしないストッパー</text>

<text class="t" x="534.3" y="768.5" textLength="132.7">保冷剤を収納できる</text>
<text class="t" x="533.5" y="786.8" textLength="82.4">背面ポケット</text>
<text x="533.5" y="798.9" textLength="114" style="font-size:11.2px;font-weight:500;fill:#222;text-anchor:middle;font-feature-settings:'palt'">※保冷剤は別売りです。</text>

<text class="t" x="352.6" y="796.7" textLength="118.2">内側には保冷剤を</text>
<text class="t" x="352.8" y="814.9" textLength="127.5">入れられるポケット</text>

<text class="t" x="160.2" y="766.5" textLength="117.2">上段にはたまごが</text>
<text class="t" x="159.4" y="784.9" textLength="96.8">入るスペース！</text>
<text class="t" x="159.9" y="802.3" textLength="93.4">（容量：約<tspan class="L">3L</tspan>）</text>

<text class="t" x="91.7" y="416.3" textLength="115.6">小物を収納できる</text>
<text class="t" x="91.7" y="433.3" textLength="53.6">ポケット</text>

<text class="t" x="89.6" y="187.5" textLength="111.2">むぎ茶<tspan class="L">650ml</tspan>も</text>
<text class="t" x="90.2" y="205.1" textLength="85.1">すっぽり入る</text>
<text class="t" x="89.4" y="222.5" textLength="96.7">サイドポケット</text>
</g>
</svg>
</body></html>
